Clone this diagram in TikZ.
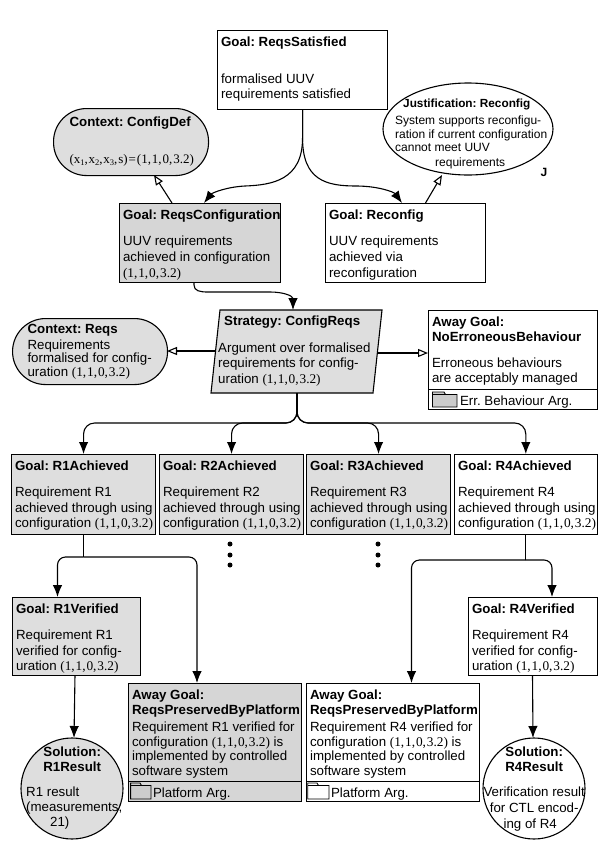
\documentclass[tikz,border=0pt]{standalone}
\usepackage{fontspec}
\setmainfont{Liberation Sans}
\newfontfamily\mth{Liberation Serif}
\usetikzlibrary{arrows.meta,shapes.geometric}
\definecolor{shadeA}{gray}{0.87}
\definecolor{shadeB}{gray}{0.84}
\definecolor{folderfill}{gray}{0.8}
\frenchspacing
\newcommand\cfg{{\mth (1,\kern0.9pt 1,\kern0.9pt 0,\kern0.9pt 3.2)}}
\newcommand\ttl[1]{\textbf{#1}}
\tikzset{
  x=1pt,y=-1pt,
  every node/.style={font=\fontsize{13.3}{15.7}\selectfont},
  gbox/.style={draw=black,line width=1.1pt,rectangle,anchor=north west,inner ysep=6pt},
  plainbox/.style={gbox,fill=white},
  greybox/.style={gbox,fill=shadeA},
  darkbox/.style={gbox,fill=shadeB},
  overlaytxt/.style={anchor=north west,inner sep=0pt},
  oval/.style={draw=black,line width=1.1pt,ellipse,inner sep=0pt},
  link/.style={draw=black,line width=1.1pt,-{Latex[length=12pt,width=9.5pt]}},
  plainlink/.style={draw=black,line width=1.1pt},
  ctxlink/.style={draw=black,line width=1.1pt,-{Triangle[open,fill=white,length=10pt,width=8pt]}},
  folder/.style={draw=black,line width=0.9pt},
  dotmark/.style={circle,fill=black,inner sep=0pt,minimum size=5pt}
}
% \bx[pad]{style}{name}{x1}{y1}{x2}{y2}{text}
\newcommand\bx[8][3.5]{%
  \pgfmathsetmacro\bxw{#6-#4-2*#1}%
  \pgfmathsetmacro\bxh{#7-#5-12}%
  \node[#2,inner xsep=#1pt] (#3) at (#4,#5) {\parbox[c][\bxh pt][t]{\bxw pt}{\noindent\rlap{\parbox[t]{500pt}{\raggedright #8}}}};%
}
\begin{document}
\begin{tikzpicture}
\useasboundingbox (0,0) rectangle (598,857);
\fill[white] (0,0) rectangle (598,857);

% boxes
\bx{plainbox}{top}{217}{30}{387}{109}{\ttl{Goal: ReqsSatisfied}\\[21.3pt]formalised UUV\\requirements satisfied}
\bx[16]{greybox,rounded corners=33pt}{cdef}{53}{108}{208}{175}{\vspace*{2pt}\ttl{Context: ConfigDef}\\[21.6pt]{\mth\fontsize{13}{15}\selectfont (x\raisebox{-2pt}{\fontsize{8.5}{9}\selectfont 1},\kern0.8pt x\raisebox{-2pt}{\fontsize{8.5}{9}\selectfont 2},\kern0.8pt x\raisebox{-2pt}{\fontsize{8.5}{9}\selectfont 3},\kern0.8pt s)\kern1pt=\kern1pt(1,\kern0.9pt 1,\kern0.9pt 0,\kern0.9pt 3.2)}}
\node[oval,fill=white,minimum width=170pt,minimum height=92pt] (just) at (468,129) {};
\node[overlaytxt,font=\fontsize{12}{13.3}\selectfont] (justt) at (395,98.5) {\parbox[t]{170pt}{\raggedright\hspace*{8pt}{\fontsize{11.8}{13.3}\selectfont\ttl{Justification: Reconfig}}\\[4.4pt]System supports reconfigu-\\ration if current configuration\\cannot meet UUV\\[1.7pt]\hspace*{40pt}requirements}};
\node[font=\fontsize{12}{13}\selectfont\bfseries,inner sep=0pt] (jmark) at (544,172) {J};
\bx{darkbox}{rc}{119}{203}{280}{282}{\ttl{Goal: ReqsConfiguration}\\[11pt]UUV requirements\\achieved in configuration\\\cfg}
\bx{plainbox}{rec}{325}{203}{485}{282}{\ttl{Goal: Reconfig}\\[11pt]UUV requirements\\achieved via\\reconfiguration}

\bx[15]{greybox,rounded corners=33pt}{creq}{12}{318}{167}{384}{\vspace*{0pt}\ttl{Context: Reqs}\\[2.3pt]\fontsize{13.3}{12}\selectfont Requirements\\formalised for config-\\uration \cfg}

\draw[line width=1.1pt,fill=shadeA] (220,310) -- (382,310) -- (373,393) -- (211,393) -- cycle;
\node[overlaytxt] (strat) at (218,316) {\parbox[t]{170pt}{\raggedright\hspace*{6pt}\ttl{Strategy: ConfigReqs}\\[10.6pt]Argument over formalised\\requirements for config-\\uration \cfg}};

\bx{plainbox}{nob}{428}{310}{596.5}{389}{\ttl{Away Goal:}\\\ttl{NoErroneousBehaviour}\\[9.6pt]Erroneous behaviours\\are acceptably managed}
\bx{plainbox}{nobf}{428}{389}{596.5}{409}{\hspace*{28pt}Err. Behaviour Arg.}
\draw[folder,fill=folderfill] (432.5,407) -- (432.5,392) -- (444,392) -- (445.5,394.5) -- (457,394.5) -- (457,407) -- cycle;
\draw[folder] (432.5,394.5) -- (445.5,394.5);

\bx{greybox}{ga}{11}{454}{155}{534}{\ttl{Goal: R1Achieved}\\[10.6pt]Requirement R1\\achieved through using\\configuration \cfg}
\bx{greybox}{gb}{159}{454}{303}{534}{\ttl{Goal: R2Achieved}\\[10.6pt]Requirement R2\\achieved through using\\configuration \cfg}
\bx{greybox}{gc}{306}{454}{450}{534}{\ttl{Goal: R3Achieved}\\[10.6pt]Requirement R3\\achieved through using\\configuration \cfg}
\bx{plainbox}{gd}{454}{454}{596.5}{534}{\ttl{Goal: R4Achieved}\\[10.6pt]Requirement R4\\achieved through using\\configuration \cfg}

\node[dotmark] (d1) at (230,544) {};
\node[dotmark] (d2) at (230,555) {};
\node[dotmark] (d3) at (230,565) {};
\node[dotmark] (d4) at (378,544) {};
\node[dotmark] (d5) at (378,555) {};
\node[dotmark] (d6) at (378,565) {};

\bx{greybox}{va}{12}{597}{140}{675}{\ttl{Goal: R1Verified}\\[10.6pt]Requirement R1\\verified for config-\\uration \cfg}
\bx{plainbox}{vd}{468}{597}{596.5}{675}{\ttl{Goal: R4Verified}\\[10.6pt]Requirement R4\\verified for config-\\uration \cfg}

\bx{darkbox}{pa}{128}{683}{301}{781}{\ttl{Away Goal:}\\\ttl{ReqsPreservedByPlatform}\\[2.7pt]\fontsize{13.3}{14.4}\selectfont Requirement R1 verified for\\configuration \cfg{} is\\implemented by controlled\\software system}
\bx{darkbox}{paf}{128}{781}{301}{801}{\hspace*{21pt}Platform Arg.}
\draw[folder,fill=folderfill] (130.6,799) -- (130.6,783) -- (140,783) -- (141.5,785.5) -- (151,785.5) -- (151,799) -- cycle;
\draw[folder] (130.6,785.5) -- (141.5,785.5);

\bx{plainbox}{pd}{306}{683}{479}{781}{\ttl{Away Goal:}\\\ttl{ReqsPreservedByPlatform}\\[2.7pt]\fontsize{13.3}{14.4}\selectfont Requirement R4 verified for\\configuration \cfg{} is\\implemented by controlled\\software system}
\bx{plainbox}{pdf}{306}{781}{479}{801}{\hspace*{21pt}Platform Arg.}
\draw[folder,fill=white] (307.7,799) -- (307.7,783) -- (317,783) -- (318.5,785.5) -- (329,785.5) -- (329,799) -- cycle;
\draw[folder] (307.7,785.5) -- (318.5,785.5);

\node[oval,fill=shadeA,minimum width=102pt,minimum height=101pt] (sa) at (72,788.5) {};
\node[overlaytxt,font=\fontsize{13.3}{15}\selectfont] (sat) at (18,747) {\parbox[t]{108pt}{\raggedright\makebox[108pt][c]{\ttl{Solution:}}\\\makebox[108pt][c]{\ttl{R1Result}}\\[9.3pt]\hspace*{8pt}R1 result\\\hspace*{8pt}(measurements;\\\hspace*{32pt}21)}};
\node[oval,fill=white,minimum width=102pt,minimum height=101pt] (sd) at (534,788.5) {};
\node[overlaytxt] (sdt) at (480,747) {\parbox[t]{108pt}{\centering\fontsize{13.3}{15}\selectfont\ttl{Solution:}\\\ttl{R4Result}\\[9.3pt]Verification result\\[1pt]for CTL encod-\\[1pt]\hspace*{-8pt}ing of R4}};

% named connector ends
\coordinate (tl) at (204,203);
\coordinate (tr) at (402,203);
\coordinate (cstart) at (172,203);
\coordinate (cend) at (154,175);
\coordinate (jstart) at (425.5,203);
\coordinate (jend) at (442,175);
\coordinate (rcout) at (194,282);
\coordinate (stin) at (293,310);
\coordinate (stout) at (297,393);
\coordinate (stl) at (215,351);
\coordinate (stlend) at (167,351);
\coordinate (str) at (377,353);
\coordinate (strend) at (428,353);
\coordinate (van) at (57.5,597);
\coordinate (pan) at (197,683);
\coordinate (pdn) at (411.5,683);
\coordinate (vdn) at (552,597);
\coordinate (vas) at (75,675);
\coordinate (san) at (74,738);
\coordinate (vds) at (532.5,675);
\coordinate (sdn) at (533,738);

% connectors
\draw[link] (top.south) -- ++(0,28) .. controls +(0,42) and (272,185) .. (245,186) .. controls (226,187) and (212,193) .. (tl);
\draw[link] (top.south) -- ++(0,28) .. controls +(0,42) and (326,186) .. (356,186) .. controls (378,186) and (394,192) .. (tr);
\draw[ctxlink] (cstart) -- (cend);
\draw[ctxlink] (jstart) -- (jend);
\draw[link] (rcout) -- ++(0,3) .. controls +(0,6) and (200,292) .. (208,292) -- (270,292) .. controls (284,292) and (293,296) .. (stin);
\draw[ctxlink] (stl) -- (stlend);
\draw[ctxlink] (str) -- (strend);
\draw[link,rounded corners=11pt] (stout) |- (ga.north |- 0,423) -- (ga.north);
\draw[link,rounded corners=11pt] (stout) |- (gb.north |- 0,423) -- (gb.north);
\draw[link,rounded corners=11pt] (stout) |- (gc.north |- 0,423) -- (gc.north);
\draw[link,rounded corners=11pt] (stout) |- (gd.north |- 0,423) -- (gd.north);
\draw[plainlink] (ga.south) -- (ga.south |- 0,557);
\draw[plainlink] (gd.south) -- (gd.south |- 0,560);
\draw[link,rounded corners=8pt] (ga.south |- 0,557) -- (van |- 0,557) -- (van);
\draw[link,rounded corners=8pt] (ga.south |- 0,557) -- (pan |- 0,557) -- (pan);
\draw[link,rounded corners=8pt] (gd.south |- 0,560) -- (pdn |- 0,560) -- (pdn);
\draw[link,rounded corners=8pt] (gd.south |- 0,560) -- (vdn |- 0,560) -- (vdn);
\draw[link] (vas) -- (san);
\draw[link] (vds) -- (sdn);
\end{tikzpicture}
\end{document}
